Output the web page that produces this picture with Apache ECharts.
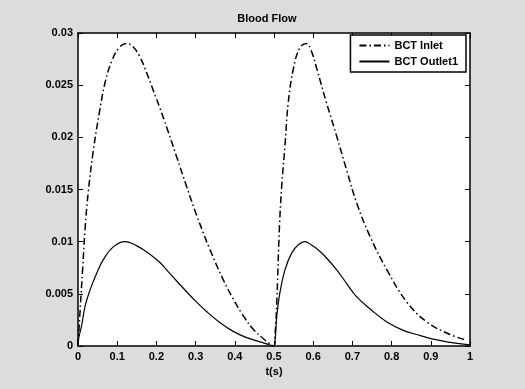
<!DOCTYPE html>
<html>
<head>
<meta charset="utf-8">
<script src="https://cdn.jsdelivr.net/npm/echarts@6/dist/echarts.min.js"></script>
<style>
  html, body { margin: 0; padding: 0; background: #dcdcdc; }
  #chart { width: 525px; height: 389px; }
</style>
</head>
<body>
<div id="chart"></div>
<script>
// time (s) and flow values, two cardiac cycles
const inletT = [0, 0.005, 0.012, 0.018, 0.026, 0.039, 0.056, 0.07, 0.086, 0.105, 0.124, 0.14, 0.158, 0.175, 0.192, 0.209, 0.226, 0.252, 0.277, 0.303, 0.337, 0.37, 0.396, 0.42, 0.447, 0.473, 0.49, 0.5,
  0.503, 0.507, 0.514, 0.52, 0.528, 0.536, 0.549, 0.566, 0.583, 0.595, 0.609, 0.634, 0.66, 0.685, 0.711, 0.745, 0.788, 0.839, 0.89, 0.949, 0.987];
const inletV = [0, 0.0032, 0.0075, 0.0112, 0.0147, 0.0187, 0.0227, 0.0254, 0.0273, 0.0286, 0.029, 0.0287, 0.0277, 0.0262, 0.0245, 0.0228, 0.021, 0.0181, 0.0153, 0.0125, 0.0092, 0.0064, 0.0045, 0.003, 0.0016, 0.0007, 0.0002, 0,
  0.0012, 0.0041, 0.0115, 0.0155, 0.0192, 0.0232, 0.0265, 0.0286, 0.029, 0.0283, 0.0266, 0.0233, 0.0201, 0.0169, 0.0137, 0.0105, 0.0073, 0.0042, 0.0023, 0.0011, 0.0006];

const outletT = [0, 0.002, 0.009, 0.018, 0.031, 0.048, 0.065, 0.09, 0.12, 0.15, 0.18, 0.209, 0.226, 0.25, 0.277, 0.3, 0.328, 0.36, 0.396, 0.43, 0.464, 0.49, 0.5,
  0.503, 0.507, 0.515, 0.528, 0.545, 0.562, 0.579, 0.595, 0.613, 0.63, 0.66, 0.685, 0.711, 0.75, 0.788, 0.83, 0.864, 0.9, 0.941, 1.0];
const outletV = [0, 0.0008, 0.0019, 0.0038, 0.0054, 0.007, 0.0083, 0.0095, 0.01, 0.0096, 0.0089, 0.008, 0.0073, 0.0063, 0.0052, 0.0043, 0.0033, 0.0023, 0.0014, 0.0008, 0.0004, 0.0001, 0,
  0.0006, 0.0028, 0.0051, 0.0073, 0.0089, 0.0097, 0.01, 0.0097, 0.0092, 0.0086, 0.0073, 0.006, 0.0047, 0.0034, 0.0023, 0.0015, 0.0011, 0.0007, 0.0004, 0.0001];

const seriesNames = ['BCT Inlet', 'BCT Outlet1'];

const zip = (xs, ys) => xs.map((x, i) => [x, ys[i]]);

const chart = echarts.init(document.getElementById('chart'));

const labelFont = {
  color: '#000',
  fontFamily: 'Liberation Sans, Arial, sans-serif',
  fontSize: 11,
  fontWeight: 'bold'
};

const boxAxis = {
  axisLine: { show: true, onZero: false, lineStyle: { color: '#000', width: 1.5 } },
  axisTick: { show: true, inside: true, length: 5, lineStyle: { color: '#000', width: 1 } },
  splitLine: { show: false }
};

const option = {
  backgroundColor: '#dcdcdc',
  animation: false,
  title: {
    text: 'Blood Flow',
    left: 262,
    top: 8,
    textAlign: 'center',
    textStyle: { ...labelFont, fontSize: 11 }
  },
  legend: {
    data: seriesNames,
    orient: 'vertical',
    right: 59,
    top: 35,
    backgroundColor: '#fff',
    borderColor: '#000',
    borderWidth: 1.5,
    borderRadius: 0,
    padding: [5, 8, 5, 8],
    itemGap: 5,
    itemWidth: 30,
    itemHeight: 10,
    itemStyle: { opacity: 0 },
    textStyle: { ...labelFont, fontSize: 11 }
  },
  grid: { left: 78, right: 55, top: 33, bottom: 43 },
  xAxis: [
    {
      ...boxAxis,
      type: 'value',
      min: 0,
      max: 1,
      interval: 0.1,
      name: 't(s)',
      nameLocation: 'middle',
      nameGap: 20,
      nameTextStyle: labelFont,
      axisLabel: { ...labelFont, margin: 5 }
    },
    {
      ...boxAxis,
      type: 'value',
      position: 'top',
      min: 0,
      max: 1,
      interval: 0.1,
      axisLabel: { show: false }
    }
  ],
  yAxis: [
    {
      ...boxAxis,
      type: 'value',
      min: 0,
      max: 0.03,
      interval: 0.005,
      axisLabel: { ...labelFont, margin: 5 }
    },
    {
      ...boxAxis,
      type: 'value',
      position: 'right',
      min: 0,
      max: 0.03,
      interval: 0.005,
      axisLabel: { show: false }
    }
  ],
  series: [
    {
      name: seriesNames[0],
      type: 'line',
      data: zip(inletT, inletV),
      smooth: 0.4,
      showSymbol: false,
      symbol: 'none',
      color: '#000',
      lineStyle: { color: '#000', width: 1.5, type: [7, 3, 1.5, 3] },
      z: 3
    },
    {
      name: seriesNames[1],
      type: 'line',
      data: zip(outletT, outletV),
      smooth: 0.4,
      showSymbol: false,
      symbol: 'none',
      color: '#000',
      lineStyle: { color: '#000', width: 1.2, type: 'solid' },
      z: 3
    }
  ],
  graphic: [
    {
      type: 'rect',
      z: -1,
      shape: { x: 78, y: 33, width: 392, height: 313 },
      style: { fill: '#fff' }
    }
  ]
};

chart.setOption(option);
</script>
</body>
</html>
